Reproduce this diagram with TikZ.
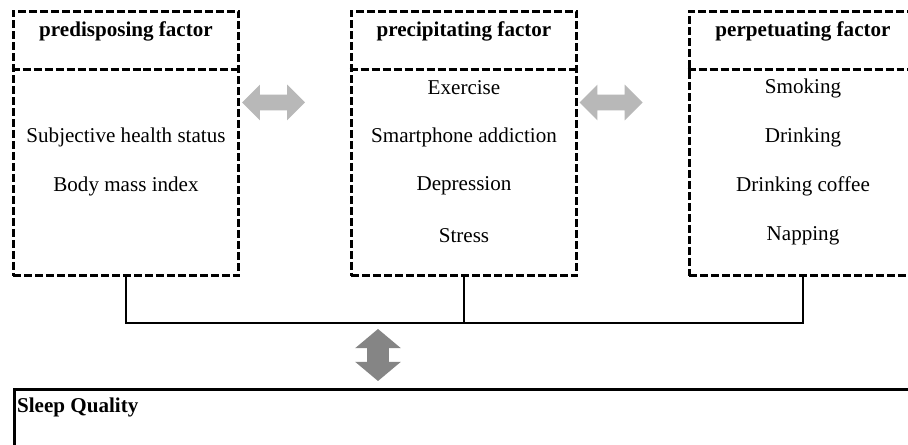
\documentclass[tikz,border=0pt]{standalone}
\usepackage{fontspec}
\setmainfont{Liberation Serif}
\usetikzlibrary{shapes.arrows}
\definecolor{lightarrow}{gray}{0.72}
\definecolor{darkarrow}{gray}{0.52}
\tikzset{
  factorbox/.style={draw,line width=0.06cm,dash pattern=on 0.16cm off 0.06cm,
    minimum width=4.52cm,minimum height=5.3cm,inner sep=0pt},
  sepline/.style={line width=0.06cm,dash pattern=on 0.16cm off 0.06cm},
  headtext/.style={font=\fontsize{12}{14}\selectfont\bfseries,inner sep=1pt},
  item/.style={font=\fontsize{12}{14}\selectfont,inner sep=1pt},
  joinline/.style={line width=0.055cm},
  sidearrow/.style={double arrow,fill=lightarrow,inner xsep=0pt,inner ysep=0.15cm,
    minimum height=1.26cm,double arrow head extend=0.2cm},
}

\begin{document}
\begin{tikzpicture}[x=0.02cm,y=-0.02cm]
    \clip (0,0) rectangle (908,445);
    \fill[white] (0,0) rectangle (908,445);
    % the three factor boxes
    \node[factorbox] (pred) at (126,143.5) {};
    \node[factorbox] (prec) at (464,143.5) {};
    \node[factorbox,minimum width=4.56cm] (perp) at (803,143.5) {};
    \draw[sepline] (pred.west |- 0,70) -- (pred.east |- 0,70);
    \draw[sepline] (prec.west |- 0,70) -- (prec.east |- 0,70);
    \draw[sepline] (perp.west |- 0,70) -- (perp.east |- 0,70);
    \node[headtext] (predhead) at (126,31) {predisposing factor};
    \node[headtext] (prechead) at (464,31) {precipitating factor};
    \node[headtext] (perphead) at (803,31) {perpetuating factor};
    \node[item] (health) at (126,137) {Subjective health status};
    \node[item] (bmi) at (126,186) {Body mass index};
    \node[item] (exercise) at (464,88) {Exercise};
    \node[item] (phone) at (464,137) {Smartphone addiction};
    \node[item] (depression) at (464,186) {Depression};
    \node[item] (stress) at (464,236) {Stress};
    \node[item] (smoking) at (803,88) {Smoking};
    \node[item] (drinking) at (803,137) {Drinking};
    \node[item] (coffee) at (803,186) {Drinking coffee};
    \node[item] (napping) at (803,236) {Napping};
    % arrows between the boxes
    \node[sidearrow] (predprec) at (273.5,102.5) {};
    \node[sidearrow] (precperp) at (611,102.5) {};
    % joining line
    \coordinate (join) at (464,323);
    \draw[joinline] (pred.south) |- (join) -| (perp.south);
    \draw[joinline] (prec.south) -- (join);
    \node[double arrow,rotate=90,fill=darkarrow,inner xsep=0pt,inner ysep=0.21cm,
      minimum height=1.04cm,double arrow head extend=0.24cm,
      double arrow tip angle=100] (updown) at (378,355) {};
    % sleep quality
    \node[draw,line width=0.06cm,anchor=north west,minimum width=18.4cm,
      minimum height=1.6cm] (sleep) at (13,388) {};
    \node[headtext,anchor=west] (sleeptext) at (15,407) {Sleep Quality};
\end{tikzpicture}
\end{document}
